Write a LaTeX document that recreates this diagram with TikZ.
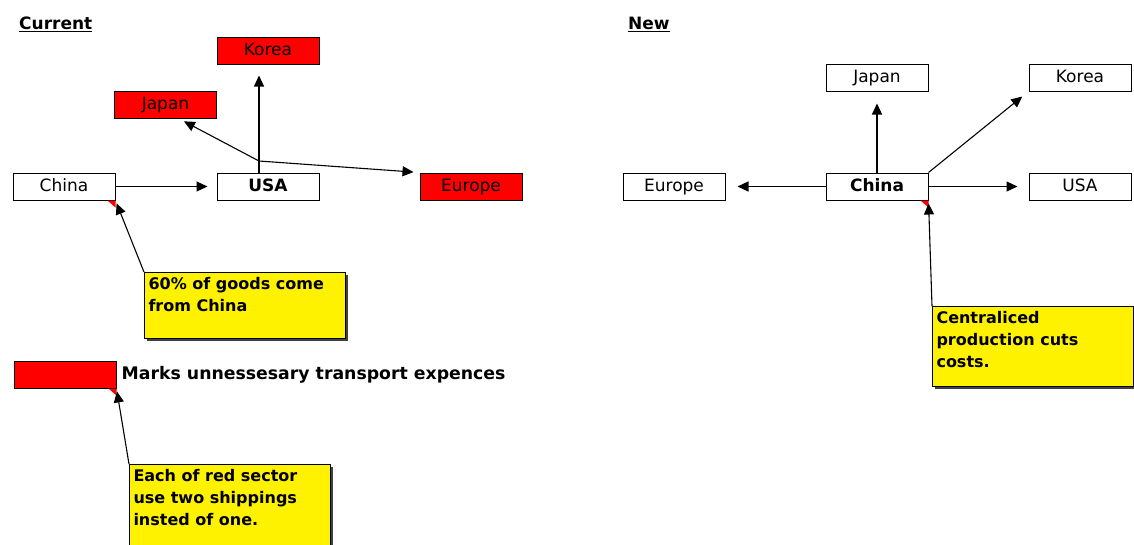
\documentclass[tikz,border=0pt]{standalone}
\usepackage{fontspec}
\setmainfont{DejaVu Sans}
\usetikzlibrary{arrows.meta,shadows}

\begin{document}
\begin{tikzpicture}[x=1pt,y=-1pt,
		box/.style={draw, line width=1pt, minimum width=102pt, minimum height=27pt, inner sep=0pt, text height=12.5pt, text depth=3pt, font=\fontsize{17}{20}\selectfont},
		redbox/.style={box, fill=red},
		note/.style={draw, line width=1pt, fill=yellow, anchor=north west, inner xsep=4pt, inner ysep=5pt,
			drop shadow={shadow xshift=2pt, shadow yshift=-2pt, fill=black!75, opacity=1},
			font=\bfseries\fontsize{16}{22}\selectfont},
		arr/.style={-{Triangle[length=11pt,width=10pt]}, line width=1.1pt},
		title/.style={anchor=west, inner sep=0pt, font=\bfseries\fontsize{17}{20}\selectfont},
		cornermark/.style={fill=red}]
				\useasboundingbox (0,0) rectangle (1134,544);
				
				% current
				\node[title] (current) at (19,24) {\underline{Current}};
				
				\node[redbox] (koreaL) at (268,50.5) {Korea};
				\node[redbox] (japanL) at (165.5,105) {Japan};
				
				\node[box] (chinaL) at (64,186.5) {China};
				\node[box, font=\bfseries\fontsize{17}{20}\selectfont] (usaL) at (268,186.5) {USA};
				\node[redbox] (europeL) at (471,186.5) {Europe};
				
				\coordinate (hub) at (259,161);
				
				\draw[arr, shorten >=9pt] (chinaL.east) -- (usaL.west);
				\draw[arr, shorten >=11pt] (hub |- usaL.north) -- (hub |- koreaL.south);
				\draw[arr, shorten >=5pt] (hub) -- ([xshift=14pt]japanL.south);
				\draw[arr, shorten >=6pt] (hub) -- (europeL.north west);
				
				\node[note] (goods) at (144,272) {\parbox[t][56pt][t]{193pt}{60\% of goods come\\from China}};
				\fill[cornermark] (chinaL.south east) -- ++(-8,0) -- ++(8,7) -- cycle;
				\draw[arr, shorten >=3pt] (goods.north west) -- (chinaL.south east);
				
				% legend
				\node[redbox] (legend) at (65,374.5) {};
				\node[anchor=west, inner sep=0pt, font=\bfseries\fontsize{17.3}{20}\selectfont] (legendtext) at ([xshift=5pt]legend.east) {Marks unnessesary transport expences};
				
				\node[note] (shippings) at (129,464) {\parbox[t][100pt][t]{193pt}{Each of red sector\\use two shippings\\insted of one.}};
				\fill[cornermark] (legend.south east) -- ++(-8,0) -- ++(8,7) -- cycle;
				\draw[arr, shorten >=3pt] (shippings.north west) -- (legend.south east);
				
				% new
				\node[title] (new) at (628,24) {\underline{New}};
				
				\node[box] (japanR) at (877,77.5) {Japan};
				\node[box] (koreaR) at (1080,77.5) {Korea};
				
				\node[box] (europeR) at (674,186.5) {Europe};
				\node[box, font=\bfseries\fontsize{17}{20}\selectfont] (chinaR) at (877,186.5) {China};
				\node[box] (usaR) at (1080,186.5) {USA};
				
				\draw[arr, shorten >=12pt] (chinaR.west) -- (europeR.east);
				\draw[arr, shorten >=12pt] (chinaR.north) -- (japanR.south);
				\draw[arr, shorten >=8pt] (chinaR.north east) -- (koreaR.south west);
				\draw[arr, shorten >=11pt] (chinaR.east) -- (usaR.west);
				
				\node[note] (costs) at (932,306) {\parbox[t][70pt][t]{193pt}{Centraliced\\production cuts\\costs.}};
				\fill[cornermark] (chinaR.south east) -- ++(-8,0) -- ++(8,7) -- cycle;
				\draw[arr, shorten >=3pt] (costs.north west) -- (chinaR.south east);
			\end{tikzpicture}
\end{document}
